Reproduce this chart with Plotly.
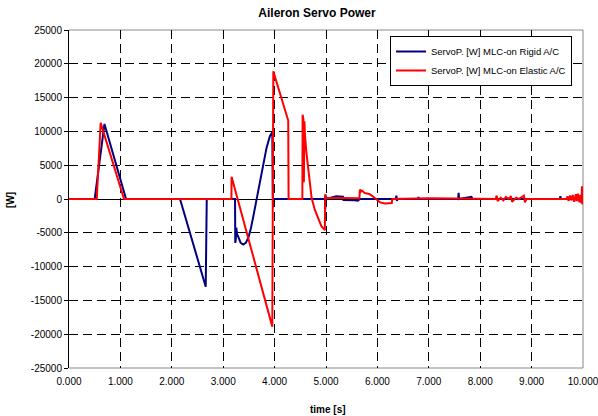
import plotly.graph_objects as go

# ---- data ----
title_text = "Aileron Servo Power"
x_title = "time [s]"
y_title = "[W]"
series_names = ["ServoP. [W] MLC-on Rigid A/C", "ServoP. [W] MLC-on Elastic A/C"]

x_tick_vals = [0, 1, 2, 3, 4, 5, 6, 7, 8, 9, 10]
x_tick_labels = ["0.000", "1.000", "2.000", "3.000", "4.000", "5.000",
                 "6.000", "7.000", "8.000", "9.000", "10.000"]
y_tick_vals = [-25000, -20000, -15000, -10000, -5000, 0, 5000, 10000, 15000, 20000, 25000]
y_tick_labels = ["-25000", "-20000", "-15000", "-10000", "-5000", "0",
                 "5000", "10000", "15000", "20000", "25000"]

t_rigid = [0, 0.50, 0.69, 1.11, 2.16, 2.66, 2.68, 3.23, 3.235, 3.245, 3.255, 3.27,
           3.30, 3.34, 3.39, 3.44, 3.49, 3.54, 3.585, 3.65, 3.714, 3.778, 3.843,
           3.908, 3.94, 3.955, 3.965, 3.97, 3.98, 4.98, 4.985, 4.99, 5.0, 5.13,
           5.2, 5.33, 5.34, 5.55, 5.62, 5.66, 6.36, 6.37, 6.38, 6.39, 6.79, 6.80,
           6.81, 7.57, 7.58, 7.59, 7.7, 7.83, 7.85, 9.55, 9.56, 9.57, 10.0]
p_rigid = [0, 0, 11100, 0, 0, -12970, 0, 0, -6500, -5980, -4250, -5200,
           -5700, -6500, -6750, -6500, -5700, -4300, -2600, 0, 2880, 5350, 7560,
           9280, 9750, 9870, 500, -1250, 0, 0, -1500, 650, 0, 300,
           400, 350, -150, -200, -250, 0, 0, 500, -300, 0, 0, 300,
           0, 0, 900, 0, 150, 300, 0, 0, 400, 0, 0]

t_elastic = [0, 0.54, 0.616, 1.07, 3.16, 3.163, 3.955, 3.962, 3.966, 3.975, 4.265,
             4.272, 4.54, 4.545, 4.56, 4.57, 4.58, 4.59, 4.62, 4.654, 4.69, 4.72,
             4.78, 4.85, 4.91, 4.978, 4.985, 4.99, 5.3, 5.65, 5.66, 5.68, 5.70,
             5.75, 5.80, 5.85, 5.91, 6.0, 6.05, 6.15, 6.28, 6.29, 6.5, 7.0, 7.5,
             8.0, 8.3, 8.32, 8.34, 8.40, 8.45, 8.5, 8.55, 8.6, 8.62, 8.7, 8.75,
             8.85, 8.87, 8.9, 9.68, 9.70, 9.72, 9.75, 9.78, 9.8, 9.83, 9.86, 9.88,
             9.9, 9.93, 9.95, 9.97, 9.98, 9.99, 10.0]
p_elastic = [0, 0, 11260, 0, 0, 3280, -18880, 10000, 0, 18880, 11600,
             0, 0, 12480, 11800, 2480, 11500, 9500, 6800, 4360, 1800, 180,
             -1550, -2780, -4010, -4610, 660, 150, 150, 100, 1400, 1100, 1250,
             900, 800, 700, 400, -200, -500, -650, -600, 0, 50, 100, 80,
             50, 0, 500, -300, 200, -200, 300, 0, 400, -400, 200, 0,
             500, -500, 0, 0, 400, -300, 500, -200, 600, -400, 700, -300,
             800, -500, 600, -600, 1890, -800, 300]

series_colors = ["#000080", "#FF0000"]

# ---- figure ----
W, H = 598, 416
L, R, T, B = 69, 15, 30, 48
pw, ph = W - L - R, H - T - B

def px_x(x):
    return (x - L) / pw

def px_y(y):
    return (H - B - y) / ph

fig = go.Figure()
for t, p, name, col in [(t_rigid, p_rigid, series_names[0], series_colors[0]),
                        (t_elastic, p_elastic, series_names[1], series_colors[1])]:
    fig.add_trace(go.Scatter(x=t, y=p, mode="lines", name=name,
                             line=dict(color=col, width=2)))

fig.update_layout(
    width=W, height=H,
    margin=dict(l=L, r=R, t=T, b=B, pad=0, autoexpand=False),
    plot_bgcolor="white", paper_bgcolor="white",
    font=dict(family="Liberation Sans, Arial, sans-serif", size=10, color="black"),
    title=dict(text="<b>" + title_text + "</b>", x=317 / W, xanchor="center",
               y=1 - 13 / H, yanchor="middle", font=dict(size=12, color="black")),
    showlegend=True,
    legend=dict(x=px_x(390), y=px_y(36), xanchor="left", yanchor="top",
                bgcolor="white", bordercolor="black", borderwidth=1,
                font=dict(size=9.5, color="black"), itemwidth=30,
                tracegroupgap=0),
    xaxis=dict(range=[0, 10], tickvals=x_tick_vals, ticktext=x_tick_labels,
               showgrid=True, gridcolor="black", gridwidth=1, griddash="9px,5px",
               zeroline=False, showline=False, ticks="", fixedrange=True,
               ticklabeloverflow="allow", ticklabelstandoff=6, automargin=False),
    yaxis=dict(range=[-25000, 25000], tickvals=y_tick_vals, ticktext=y_tick_labels,
               showgrid=True, gridcolor="black", gridwidth=1, griddash="9px,5px",
               zeroline=True, zerolinecolor="black", zerolinewidth=1,
               showline=True, linecolor="black", linewidth=1, automargin=False,
               ticks="outside", ticklen=4, tickcolor="black", fixedrange=True),
    shapes=[dict(type="path", xref="paper", yref="paper",
                 path="M 0,1 L 1,1 L 1,0 L 0,0",
                 line=dict(color="#888888", width=1), layer="between")],
    annotations=[
        dict(text="<b>" + y_title + "</b>", xref="paper", yref="paper",
             x=px_x(10), y=px_y(200), textangle=-90, showarrow=False,
             font=dict(size=10, color="black"), xanchor="center", yanchor="middle"),
        dict(text="<b>" + x_title + "</b>", xref="paper", yref="paper",
             x=px_x(328), y=px_y(409), showarrow=False,
             font=dict(size=10, color="black"), xanchor="center", yanchor="middle"),
    ],
)

fig.write_html("out.html", config={"displayModeBar": False},
               post_script="document.body.style.margin='0px';document.body.style.padding='0px';")
